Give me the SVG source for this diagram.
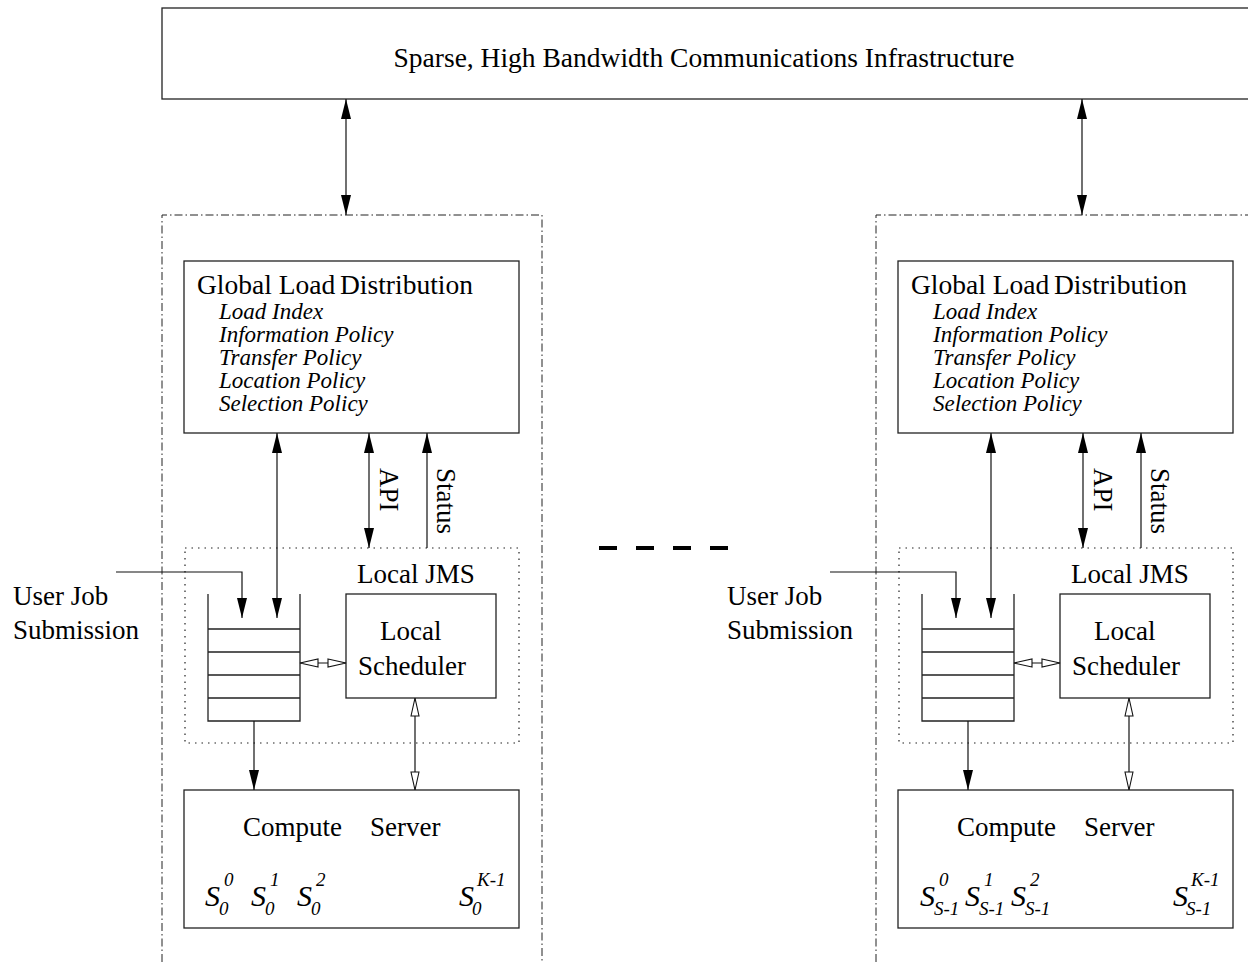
<svg xmlns="http://www.w3.org/2000/svg" width="1248" height="962" viewBox="0 0 1248 962">
<style>
text{font-family:"Liberation Serif","Times New Roman",serif;fill:#000}
.t{font-size:27px}
.tt{font-size:27.5px}
.it{font-size:23px;font-style:italic}
.s{font-size:30px;font-style:italic}
.sc{font-size:19px;font-style:italic}
.box{fill:#fff;stroke:#222;stroke-width:1.3}
.dd{fill:none;stroke:#222;stroke-width:1;stroke-dasharray:8,3,1.5,3}
.dot{fill:none;stroke:#222;stroke-width:1.2;stroke-dasharray:1.5,5}
.q{fill:none;stroke:#222;stroke-width:1.3}
.c{fill:none;stroke:#111;stroke-width:1.2}
.cf{marker-end:url(#af)}
.cff{marker-start:url(#af);marker-end:url(#af)}
.chh{marker-start:url(#ah);marker-end:url(#ah)}
</style>
<defs>
<marker id="af" markerUnits="userSpaceOnUse" markerWidth="20" markerHeight="10" refX="20" refY="5" orient="auto-start-reverse" viewBox="0 0 20 10">
<path d="M0,0 L20,5 L0,10 Z" fill="#000"/>
</marker>
<marker id="ah" markerUnits="userSpaceOnUse" markerWidth="20" markerHeight="10" refX="19" refY="5" orient="auto-start-reverse" viewBox="0 0 20 10">
<path d="M1,1 L19,5 L1,9 Z" fill="#fff" stroke="#111" stroke-width="1.1"/>
</marker>
</defs>

<g id="infrastructure">
<rect class="box" x="162" y="8" width="1100" height="91"/>
<text class="tt" x="704" y="67" text-anchor="middle">Sparse, High Bandwidth Communications Infrastructure</text>
</g>

<g id="site-left-frame"><path class="dd" d="M162,962 L162,215 L542,215 L542,962"/></g>
<g id="site-right-frame"><path class="dd" d="M876,962 L876,215 L1256,215 L1256,962"/></g>

<g id="gld-left">
<rect class="box" x="184" y="261" width="335" height="172"/>
<text class="tt" y="294"><tspan x="197">Global Load</tspan><tspan x="340">Distribution</tspan></text>
<text class="it" x="219" y="319">Load Index</text>
<text class="it" x="219" y="342">Information Policy</text>
<text class="it" x="219" y="365">Transfer Policy</text>
<text class="it" x="219" y="388">Location Policy</text>
<text class="it" x="219" y="411">Selection Policy</text>
</g>
<g id="gld-right" transform="translate(714,0)">
<rect class="box" x="184" y="261" width="335" height="172"/>
<text class="tt" y="294"><tspan x="197">Global Load</tspan><tspan x="340">Distribution</tspan></text>
<text class="it" x="219" y="319">Load Index</text>
<text class="it" x="219" y="342">Information Policy</text>
<text class="it" x="219" y="365">Transfer Policy</text>
<text class="it" x="219" y="388">Location Policy</text>
<text class="it" x="219" y="411">Selection Policy</text>
</g>

<g id="jms-left">
<rect class="dot" x="185" y="548" width="334" height="195"/>
<text class="t" x="357" y="583">Local JMS</text>
</g>
<g id="jms-right" transform="translate(714,0)">
<rect class="dot" x="185" y="548" width="334" height="195"/>
<text class="t" x="357" y="583">Local JMS</text>
</g>

<g id="queue-left">
<path class="q" d="M208,594 V721 H300 V594 M208,629 H300 M208,652 H300 M208,675 H300 M208,698 H300"/>
</g>
<g id="queue-right" transform="translate(714,0)">
<path class="q" d="M208,594 V721 H300 V594 M208,629 H300 M208,652 H300 M208,675 H300 M208,698 H300"/>
</g>

<g id="scheduler-left">
<rect class="box" x="346" y="594" width="150" height="104"/>
<text class="t" x="380" y="640">Local</text>
<text class="t" x="358" y="675">Scheduler</text>
</g>
<g id="scheduler-right" transform="translate(714,0)">
<rect class="box" x="346" y="594" width="150" height="104"/>
<text class="t" x="380" y="640">Local</text>
<text class="t" x="358" y="675">Scheduler</text>
</g>

<g id="compute-left">
<rect class="box" x="184" y="790" width="335" height="138"/>
<text class="t" y="836"><tspan x="243">Compute</tspan><tspan x="370">Server</tspan></text>
<text class="s" x="205" y="906">S</text><text class="sc" x="224" y="886">0</text><text class="sc" x="219" y="915">0</text>
<text class="s" x="251" y="906">S</text><text class="sc" x="270" y="886">1</text><text class="sc" x="265" y="915">0</text>
<text class="s" x="297" y="906">S</text><text class="sc" x="316" y="886">2</text><text class="sc" x="311" y="915">0</text>
<text class="s" x="459" y="906">S</text><text class="sc" x="477" y="886">K-1</text><text class="sc" x="472" y="915">0</text>
</g>
<g id="compute-right">
<rect class="box" x="898" y="790" width="335" height="138"/>
<text class="t" y="836"><tspan x="957">Compute</tspan><tspan x="1084">Server</tspan></text>
<text class="s" x="920" y="906">S</text><text class="sc" x="939" y="886">0</text><text class="sc" x="934" y="915">S-1</text>
<text class="s" x="965" y="906">S</text><text class="sc" x="984" y="886">1</text><text class="sc" x="979" y="915">S-1</text>
<text class="s" x="1011" y="906">S</text><text class="sc" x="1030" y="886">2</text><text class="sc" x="1025" y="915">S-1</text>
<text class="s" x="1173" y="906">S</text><text class="sc" x="1191" y="886">K-1</text><text class="sc" x="1186" y="915">S-1</text>
</g>

<g id="user-left">
<text class="t" x="13" y="605">User Job</text>
<text class="t" x="13" y="639">Submission</text>
</g>
<g id="user-right">
<text class="t" x="727" y="605">User Job</text>
<text class="t" x="727" y="639">Submission</text>
</g>

<g id="ellipsis">
<line x1="599" y1="548" x2="728" y2="548" stroke="#000" stroke-width="4" stroke-dasharray="18,19"/>
</g>

<g id="connectors">
<line class="c cff" x1="346" y1="99" x2="346" y2="215"/>
<line class="c cff" x1="1082" y1="99" x2="1082" y2="215"/>
<g id="conn-left">
<line class="c cff" x1="277" y1="433" x2="277" y2="618"/>
<line class="c cff" x1="369" y1="433" x2="369" y2="548"/>
<line class="c cf" x1="427" y1="548" x2="427" y2="433"/>
<path class="c cf" d="M116,572 H242 V618"/>
<line class="c chh" x1="300" y1="663" x2="346" y2="663"/>
<line class="c cf" x1="254" y1="721" x2="254" y2="790"/>
<line class="c chh" x1="415" y1="698" x2="415" y2="790"/>
<text class="t" transform="translate(380,468) rotate(90)">API</text>
<text class="t" transform="translate(437,468) rotate(90)">Status</text>
</g>
<g id="conn-right" transform="translate(714,0)">
<line class="c cff" x1="277" y1="433" x2="277" y2="618"/>
<line class="c cff" x1="369" y1="433" x2="369" y2="548"/>
<line class="c cf" x1="427" y1="548" x2="427" y2="433"/>
<path class="c cf" d="M116,572 H242 V618"/>
<line class="c chh" x1="300" y1="663" x2="346" y2="663"/>
<line class="c cf" x1="254" y1="721" x2="254" y2="790"/>
<line class="c chh" x1="415" y1="698" x2="415" y2="790"/>
<text class="t" transform="translate(380,468) rotate(90)">API</text>
<text class="t" transform="translate(437,468) rotate(90)">Status</text>
</g>
</g>
</svg>
